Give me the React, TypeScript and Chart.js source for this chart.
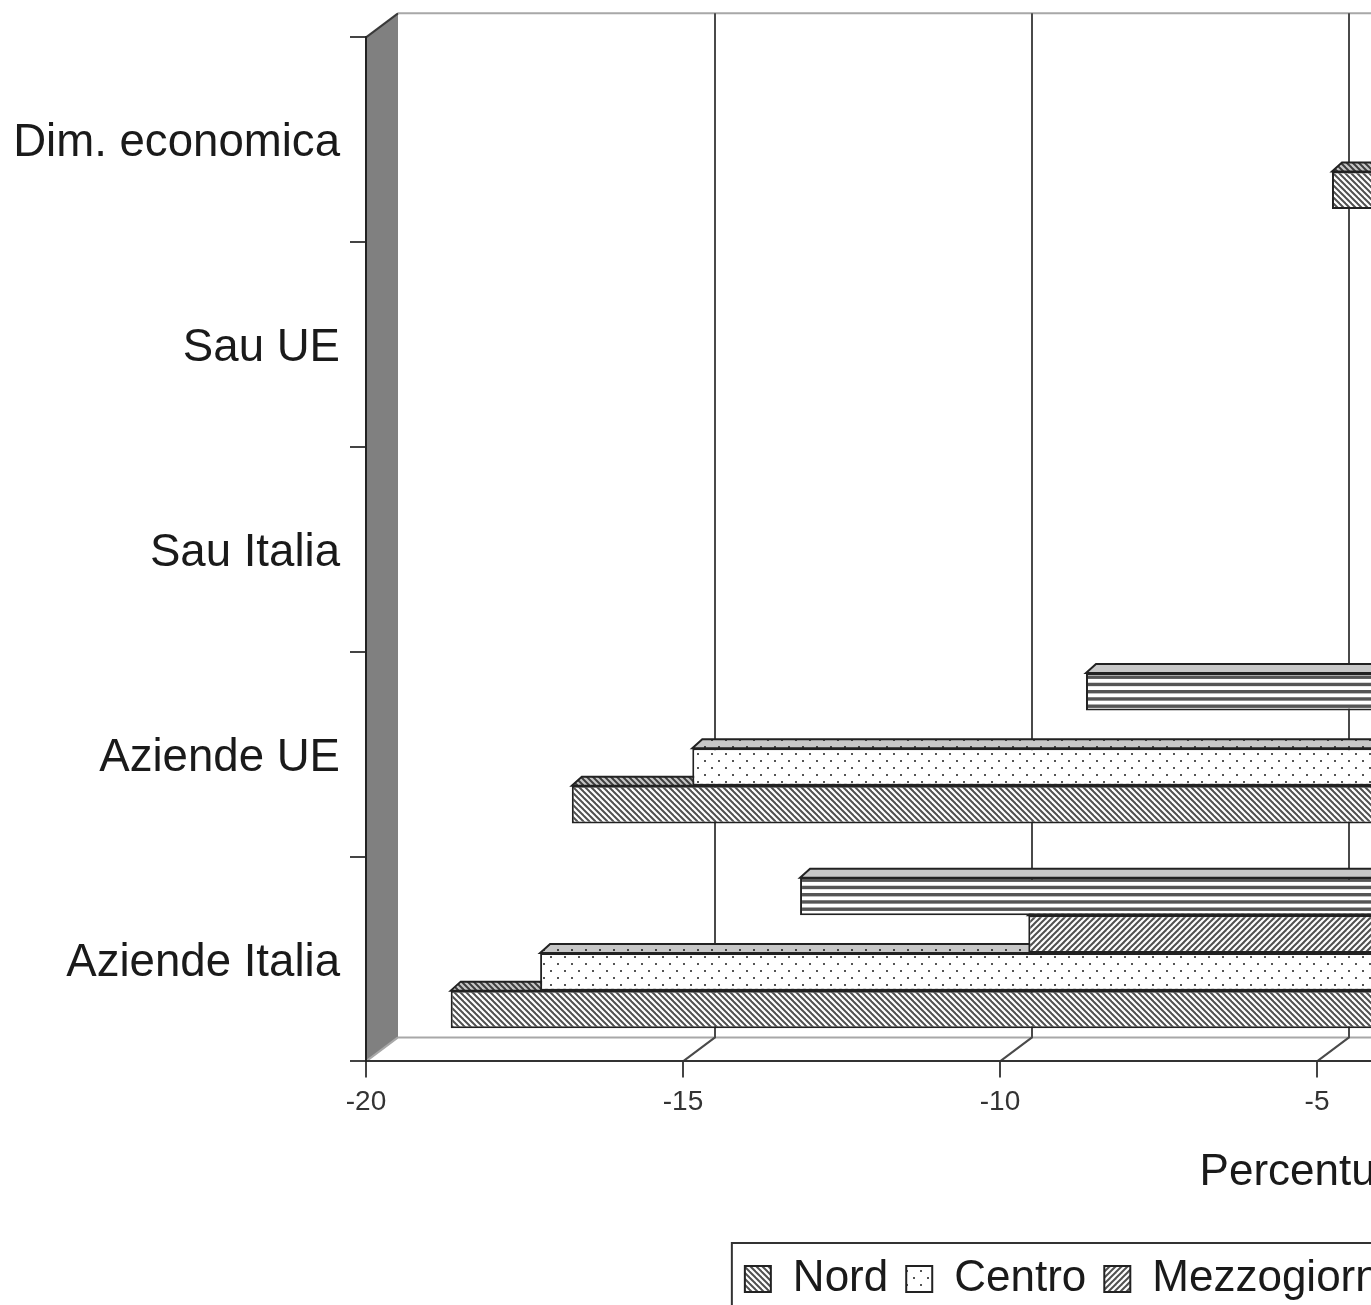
import React, { useEffect, useRef } from "react";
import { Chart, registerables } from "chart.js";

Chart.register(...registerables);

// Top category first.
const categories = ["Dim. economica", "Sau UE", "Sau Italia", "Aziende UE", "Aziende Italia"];
const seriesNames = ["Nord", "Centro", "Mezzogiorno", "Italia"];
// Values that fall outside the visible crop are left null.
const nordValues = [-4.89, null, null, -16.88, -18.79];
const centroValues = [null, null, null, -14.98, -17.38];
const mezzogiornoValues = [null, null, null, null, -9.68];
const italiaValues = [null, null, null, -8.77, -13.28];

const axisMin = -20;
const axisMax = 10;
const axisStep = 5;
const axisTitle = "Percentuale";

const WALL_DX = 32;
const WALL_DY = -24;
const BAR_DX = 8;
const BAR_DY = -6;
const TOP_DX = 10;
const TOP_DY = -9;
const INK = "#222222";

function tile(w: number, h: number, draw: (c: CanvasRenderingContext2D) => void) {
  const cv = document.createElement("canvas");
  cv.width = w;
  cv.height = h;
  const c = cv.getContext("2d")!;
  c.fillStyle = "#ffffff";
  c.fillRect(0, 0, w, h);
  draw(c);
  return c.createPattern(cv, "repeat")!;
}

function diagonal(down: boolean) {
  const n = 6;
  return tile(n, n, (c) => {
    c.strokeStyle = "#505050";
    c.lineWidth = 2;
    for (let i = -n; i <= n; i += n) {
      c.beginPath();
      if (down) {
        c.moveTo(i - 1, -1);
        c.lineTo(i + n + 1, n + 1);
      } else {
        c.moveTo(i - 1, n + 1);
        c.lineTo(i + n + 1, -1);
      }
      c.stroke();
    }
  });
}

function dots() {
  return tile(14, 14, (c) => {
    c.fillStyle = "#555555";
    c.fillRect(3, 3, 2, 2);
    c.fillRect(10, 10, 2, 2);
  });
}

function stripes() {
  return tile(4, 29, (c) => {
    c.fillStyle = "#555555";
    [0, 7.25, 14.5, 21.75].forEach((y) => c.fillRect(0, y, 4, 3.4));
  });
}

const depthPlugin = {
  id: "depth",
  beforeDraw(chart: any) {
    const { ctx, chartArea: a, scales } = chart;
    const x = scales.x;
    const bx = a.left + WALL_DX;
    const ty = a.top + WALL_DY;
    const by = a.bottom + WALL_DY;
    ctx.save();
    ctx.fillStyle = "#808080";
    ctx.beginPath();
    ctx.moveTo(a.left, a.top);
    ctx.lineTo(bx, ty);
    ctx.lineTo(bx, by);
    ctx.lineTo(a.left, a.bottom);
    ctx.closePath();
    ctx.fill();
    ctx.strokeStyle = "#3a3a3a";
    ctx.lineWidth = 2;
    ctx.beginPath();
    ctx.moveTo(a.left, a.top);
    ctx.lineTo(bx, ty);
    ctx.stroke();
    ctx.strokeStyle = "#a8a8a8";
    ctx.beginPath();
    ctx.moveTo(bx, ty);
    ctx.lineTo(a.right + WALL_DX, ty);
    ctx.moveTo(bx, by);
    ctx.lineTo(a.right + WALL_DX, by);
    ctx.moveTo(a.left, a.bottom);
    ctx.lineTo(bx, by);
    ctx.stroke();
    x.ticks.forEach((t: any) => {
      if (t.value === axisMin) return;
      const px = x.getPixelForValue(t.value);
      ctx.strokeStyle = "#4a4a4a";
      ctx.beginPath();
      ctx.moveTo(px + WALL_DX, ty);
      ctx.lineTo(px + WALL_DX, by);
      ctx.lineTo(px, a.bottom);
      ctx.stroke();
    });
    ctx.restore();
  },
  beforeDatasetDraw(chart: any, args: any) {
    const { ctx } = chart;
    ctx.save();
    ctx.translate(BAR_DX, BAR_DY);
    const ds = chart.data.datasets[args.index];
    args.meta.data.forEach((bar: any, i: number) => {
      if (ds.data[i] === null) return;
      const p = bar.getProps(["x", "y", "base", "height"], true);
      const l = Math.min(p.x, p.base);
      const r = Math.max(p.x, p.base);
      const t = p.y - p.height / 2;
      ctx.beginPath();
      ctx.moveTo(l, t);
      ctx.lineTo(l + TOP_DX, t + TOP_DY);
      ctx.lineTo(r + TOP_DX, t + TOP_DY);
      ctx.lineTo(r, t);
      ctx.closePath();
      if (ds.flatTop) {
        ctx.fillStyle = "#c8c8c8";
        ctx.fill();
      } else {
        ctx.fillStyle = ds.backgroundColor;
        ctx.fill();
        ctx.fillStyle = "rgba(0,0,0,0.22)";
        ctx.fill();
      }
      ctx.strokeStyle = INK;
      ctx.lineWidth = 2;
      ctx.stroke();
    });
  },
  afterDatasetDraw(chart: any) {
    chart.ctx.restore();
  },
  afterDraw(chart: any) {
    const { ctx, legend } = chart;
    const boxes = legend.legendHitBoxes;
    if (!boxes || !boxes.length) return;
    const first = boxes[0];
    const last = boxes[boxes.length - 1];
    const cy = first.top + first.height / 2;
    ctx.save();
    ctx.strokeStyle = "#333333";
    ctx.lineWidth = 2;
    ctx.strokeRect(first.left - 13, cy - 36, last.left + last.width - first.left + 26, 72);
    ctx.restore();
  },
};

export default function App() {
  const ref = useRef<HTMLCanvasElement>(null);

  useEffect(() => {
    const border = { borderColor: INK, borderWidth: 2, borderSkipped: false, clip: false as any };
    const shared = { categoryPercentage: 0.735, barPercentage: 1, ...border };
    const chart = new Chart(ref.current!, {
      type: "bar",
      plugins: [depthPlugin as any],
      data: {
        labels: categories,
        // Chart.js paints the last dataset first and stacks index 0 at the top of each band.
        datasets: [
          { label: seriesNames[3], data: italiaValues, backgroundColor: stripes(), flatTop: true, ...shared },
          { label: seriesNames[2], data: mezzogiornoValues, backgroundColor: diagonal(false), ...shared },
          { label: seriesNames[1], data: centroValues, backgroundColor: dots(), ...shared },
          { label: seriesNames[0], data: nordValues, backgroundColor: diagonal(true), ...shared },
        ] as any,
      },
      options: {
        indexAxis: "y",
        responsive: false,
        devicePixelRatio: 1,
        animation: false,
        layout: { padding: { top: 33, left: 0, right: 0, bottom: 0 } },
        scales: {
          x: {
            min: axisMin,
            max: axisMax,
            afterFit: (s: any) => {
              s.height = 177.6;
            },
            grid: { drawOnChartArea: false, tickLength: 16, color: "#444444", lineWidth: 2 },
            border: { color: "#333333", width: 2 },
            ticks: {
              stepSize: axisStep,
              maxRotation: 0,
              autoSkip: false,
              padding: 8,
              color: "#333333",
              font: { family: "Liberation Sans", size: 28 },
            },
            title: {
              display: true,
              text: axisTitle,
              color: "#1a1a1a",
              font: { family: "Liberation Sans", size: 44 },
              padding: { top: 4, bottom: 40 },
            },
          },
          y: {
            afterFit: (s: any) => {
              s.width = 366;
            },
            // The reference's category labels sit a little below the band centres.
            afterUpdate: (s: any) => {
              const base = Object.getPrototypeOf(s).drawLabels;
              s.drawLabels = function (area: any) {
                this.ctx.save();
                this.ctx.translate(0, 4);
                base.call(this, area);
                this.ctx.restore();
              };
            },
            grid: { drawOnChartArea: false, tickLength: 16, color: "#444444", lineWidth: 2 },
            border: { color: "#222222", width: 2 },
            ticks: {
              padding: 10,
              autoSkip: false,
              color: "#1a1a1a",
              font: { family: "Liberation Sans", size: 45.6 },
            },
          },
          // Empty right-hand axis: reserves the depth margin beside the plot.
          yDepth: {
            position: "right",
            afterFit: (s: any) => {
              s.width = 40;
            },
            grid: { display: false },
            border: { display: false },
            ticks: { display: false },
          },
        },
        plugins: {
          tooltip: { enabled: false },
          legend: {
            position: "bottom",
            reverse: true,
            labels: {
              boxWidth: 26,
              boxHeight: 26,
              padding: 18,
              color: "#1a1a1a",
              font: { family: "Liberation Sans", size: 44 },
            },
          },
        },
      } as any,
    });
    return () => chart.destroy();
  }, []);

  return (
    <div style={{ position: "absolute", left: 0, top: 0, width: 1371, height: 1305, overflow: "hidden", background: "#ffffff" }}>
      <canvas ref={ref} width={2308} height={1311} style={{ display: "block", width: 2308, height: 1311, filter: "blur(0.5px)" }} />
    </div>
  );
}
